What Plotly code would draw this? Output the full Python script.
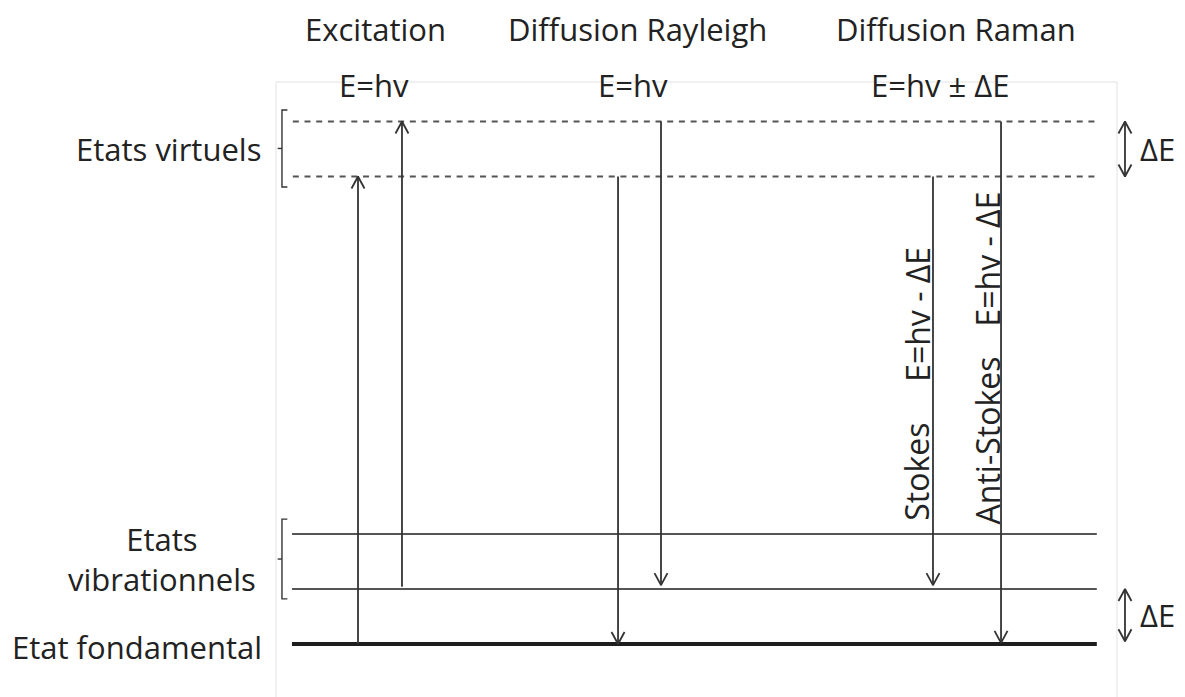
import plotly.graph_objects as go

# ---------------- data ----------------
# energy levels (units of ΔE above the ground state)
level_energy = [0.0, 1.0, 2.0, 8.5, 9.5]
level_kind = ["ground", "vib", "vib", "virtual", "virtual"]
level_x0 = [1.9, 1.9, 1.9, 2.0, 2.0]
level_x1 = [97.6, 97.6, 97.6, 97.6, 97.6]

# transitions: horizontal position, start energy, end energy
arrow_x = [9.75, 14.98, 40.67, 45.78, 78.12, 86.21]
arrow_from = [0.0, 1.04, 8.5, 9.5, 8.5, 9.5]
arrow_to = [8.5, 9.5, 0.0, 1.07, 1.07, 0.02]

# column titles
column_titles = ["Excitation", "Diffusion Rayleigh", "Diffusion Raman"]
column_x = [11.8, 43.0, 80.9]
energy_labels = ["E=hv", "E=hv", "E=hv ± ΔE"]
energy_label_x = [11.7, 42.5, 79.0]

# group labels on the left
group_labels = ["Etats virtuels", "Etats<br>vibrationnels", "Etat fondamental"]
group_y = [9.0, 1.55, -0.05]
bracket_lo = [8.31, 0.82]
bracket_hi = [9.71, 2.27]

# rotated labels on Raman arrows
rot_labels = ["Stokes", "E=hv - ΔE", "Anti-Stokes", "E=hv - ΔE"]
rot_x = [76.2, 76.2, 84.6, 84.6]
rot_y = [3.13, 6.0, 3.71, 7.0]

# ΔE indicators on the right
delta_lo = [8.5, 0.05]
delta_hi = [9.5, 1.0]
delta_x = 100.95

# ---------------- scales ----------------
W, H = 1185, 697
PAGE_OFF = 8          # page margin around the plot div
PX_X = 8.41           # pixels per x unit
PX_Y = 55.0           # pixels per energy unit
X0_PX, Y0_PX = 276, 644   # page pixel of x=0 and of energy 0


def px2x(px):
    return (px - X0_PX) / PX_X


def py2y(py):
    return (Y0_PX - py) / PX_Y


xr = [px2x(PAGE_OFF), px2x(PAGE_OFF + W)]
yr = [py2y(PAGE_OFF + H), py2y(PAGE_OFF)]

LINE = "#333333"
LEVEL = "#555555"
TXT = "#222222"
FONT = "Open Sans"
FS = 31
FS_ROT = 32

fig = go.Figure()


def add_line(xs, ys, width=1.5, color=LINE, dash="solid"):
    fig.add_trace(go.Scatter(x=xs, y=ys, mode="lines", hoverinfo="skip",
                             line=dict(color=color, width=width, dash=dash),
                             showlegend=False))


# levels
for e, k, a, b in zip(level_energy, level_kind, level_x0, level_x1):
    if k == "ground":
        add_line([a, b], [e, e], width=4, color="#1e1e1e")
    elif k == "vib":
        add_line([a, b], [e, e], width=2, color=LEVEL)
    else:
        add_line([a, b], [e, e], width=2, color=LEVEL, dash="6px,5.7px")

hw = 6.5 / PX_X
hl = 12.0 / PX_Y


def arrow_head(x, y_tip, up):
    s = -1 if up else 1
    return [x - hw, x, x + hw, None], [y_tip + s * hl, y_tip, y_tip + s * hl, None]


# transitions
sx, sy = [], []
for x, f, t in zip(arrow_x, arrow_from, arrow_to):
    sx += [x, x, None]
    sy += [f, t, None]
    hx, hy = arrow_head(x, t, t > f)
    sx += hx
    sy += hy
add_line(sx, sy, width=1.8)

# ΔE double arrows
dx, dy = [], []
for lo, hi in zip(delta_lo, delta_hi):
    dx += [delta_x, delta_x, None]
    dy += [lo, hi, None]
    for tip, up in ((hi, True), (lo, False)):
        hx, hy = arrow_head(delta_x, tip, up)
        dx += hx
        dy += hy
add_line(dx, dy, width=1.8)

# brackets
bx, by = [], []
bl, br, bm = 0.71, 1.35, 0.2
for lo, hi in zip(bracket_lo, bracket_hi):
    mid = (lo + hi) / 2
    bx += [br, bl, bl, br, None, bl, bm, None]
    by += [hi, hi, lo, lo, None, mid, mid, None]
add_line(bx, by, width=1.4)

font = dict(family=FONT, size=FS, color=TXT)
font_rot = dict(family=FONT, size=FS_ROT, color=TXT)
annotations = []
for t, x in zip(column_titles, column_x):
    annotations.append(dict(x=x, y=py2y(29), text=t, showarrow=False, font=font))
for t, x in zip(energy_labels, energy_label_x):
    annotations.append(dict(x=x, y=py2y(85), text=t, showarrow=False, font=font))
# left group labels
annotations.append(dict(x=px2x(263), y=group_y[0], text=group_labels[0], showarrow=False,
                        xanchor="right", font=font))
annotations.append(dict(x=px2x(162), y=group_y[1], text=group_labels[1],
                        showarrow=False, align="center", xanchor="center", font=font))
annotations.append(dict(x=px2x(264), y=group_y[2], text=group_labels[2], showarrow=False,
                        xanchor="right", font=font))
for t, x, y in zip(rot_labels, rot_x, rot_y):
    annotations.append(dict(x=x, y=y, text=t, showarrow=False, textangle=-90, font=font_rot))
for lo, hi in zip(delta_lo, delta_hi):
    annotations.append(dict(x=delta_x + 1.5, y=(lo + hi) / 2, text="ΔE", showarrow=False,
                            xanchor="left", font=font))

fig.update_layout(
    width=W, height=H,
    margin=dict(l=0, r=0, t=0, b=0),
    paper_bgcolor="white", plot_bgcolor="white",
    xaxis=dict(range=xr, visible=False, fixedrange=True),
    yaxis=dict(range=yr, visible=False, fixedrange=True),
    annotations=annotations,
    shapes=[dict(type="rect", xref="x", yref="y", x0=0, x1=100, y0=yr[0] - 1,
                 y1=py2y(82), line=dict(color="#e2e2e2", width=1),
                 layer="below")],
    showlegend=False,
)

fig.write_html("out.html")
